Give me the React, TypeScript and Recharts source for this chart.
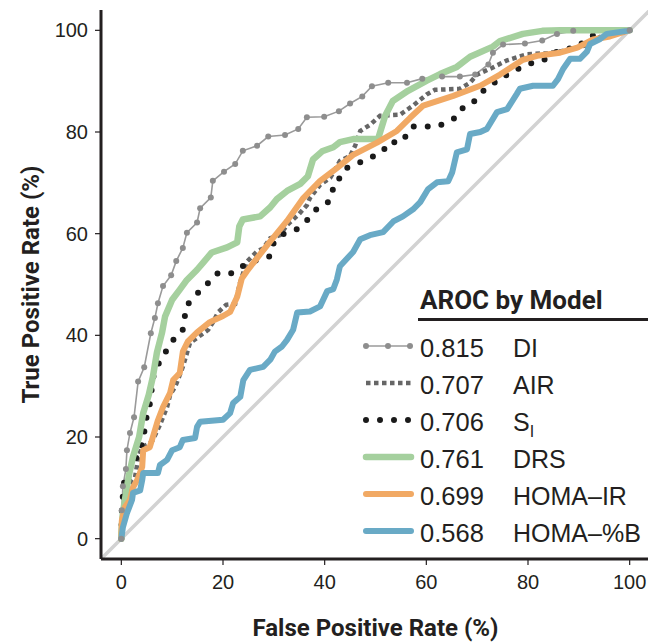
import React from "react";
import { LineChart, Line, XAxis, YAxis, Legend } from "recharts";

// ROC points: [false positive %, true positive %]
const diagonal: [number, number][] = [[-4, -4], [104, 104]];

const diPts: [number, number][] = [
  [0, 0], [0.1, 5.6], [0.3, 10.3], [0.9, 13.7], [1.1, 17.4], [1.7, 20.8], [2.5, 23.9],
  [3.3, 30.9], [4.5, 33.7], [5.8, 40.4], [6.6, 43.4], [7.2, 46.3], [8.2, 49.7],
  [9.8, 51.8], [10.8, 54.6], [12.1, 57.2], [12.9, 60.2], [14.9, 62.2], [15.5, 65.0],
  [17.6, 67.1], [18.0, 70.4], [20.2, 72.2], [22.4, 73.7], [23.9, 76.3], [26.7, 77.3],
  [28.9, 79.1], [32.2, 79.4], [34.8, 80.6], [36.5, 82.9], [39.9, 83.0], [42.8, 84.1],
  [45.0, 85.6], [47.4, 87.0], [49.3, 89.0], [52.5, 89.7], [56.2, 89.7], [59.2, 90.5],
  [63.1, 90.9], [66.6, 90.9], [69.6, 91.3], [72.2, 93.3], [73.1, 95.6], [75.1, 97.2],
  [79.4, 97.4], [82.8, 98.0], [85.7, 99.3], [88.9, 99.9], [100, 100],
];

const airPts: [number, number][] = [
  [0, 0], [0.3, 5], [1.1, 8.1], [1.7, 10.9], [2.7, 12.1], [3.1, 14.5], [3.3, 16.1],
  [4.1, 18], [5.6, 18.8], [6.2, 19.4], [7.6, 22.4], [9, 25.9], [9.6, 28.3], [10.6, 29.9],
  [11.5, 32.2], [12.1, 33.8], [13.5, 38.5], [17.1, 41.1], [18.1, 42.7], [19, 44.5],
  [20.6, 46], [22.4, 46.2], [23.3, 50.2], [24.7, 54.5], [26.7, 56.5], [27.9, 57.1],
  [29.3, 59.1], [31.2, 59.7], [32.6, 61.7], [34.8, 63.7], [36.5, 65.6], [37.1, 67],
  [39.1, 69.6], [41.1, 71], [43, 74.3], [45, 75.3], [46, 77.3], [47, 80.2], [48.9, 81.4],
  [50.9, 83.2], [54.8, 83.4], [57.4, 85.2], [60.1, 87.4], [61.7, 88.3], [66.6, 88.5],
  [68.6, 89.7], [70, 91.3], [73.1, 92.7], [75.9, 94.1], [79.8, 95.3], [83.8, 95.5],
  [87.7, 96.1], [91.6, 97.1], [94.2, 98.7], [99.3, 99.7], [100, 100],
];

const siPts: [number, number][] = [
  [0, 0], [0.1, 6], [0.3, 8.5], [0.5, 10.9], [1.3, 12.9], [2.1, 14.9], [2.7, 15.5],
  [3.7, 17.1], [4.5, 20.8], [4.7, 23], [5.4, 25.3], [5.8, 27.7], [6.2, 31.6], [7.2, 34.2],
  [8.2, 35.8], [9.2, 37.6], [10.2, 39.1], [11.9, 40.5], [12.5, 42.5], [12.5, 45.1],
  [13.5, 46.7], [14.9, 48.1], [16.1, 49.7], [17.8, 50.7], [19, 52.3], [21.8, 52.2],
  [24.3, 53.9], [26.9, 54.9], [29.1, 55.5], [29.6, 57.7], [31.8, 59.9], [32.8, 60.1],
  [34.6, 60.9], [37.5, 63.5], [38.5, 65], [40.5, 66], [41.5, 67.4], [41.7, 69.9],
  [43.2, 71.1], [44.2, 72.9], [46, 73.5], [47.9, 74.5], [49.5, 75.2], [51.5, 76.2],
  [52.5, 78], [55.2, 78], [56.2, 79.6], [57.2, 81.1], [62.3, 81.1], [64.3, 82.1],
  [66, 82.9], [67, 84.6], [69, 85.5], [70.2, 87.1], [71.5, 88.4], [73.1, 89.4],
  [74.5, 90.8], [76.5, 91.4], [78, 92.4], [80, 93.4], [82.8, 94], [85.7, 95.8],
  [87.7, 96], [89.3, 97.4], [90.8, 97.4], [92.8, 99], [94.8, 99.7], [100, 100],
];

const drsPts: [number, number][] = [
  [0, 0], [0, 1.1], [0.3, 5], [0.9, 8.9], [1.5, 12.5], [2.3, 16.1], [3.5, 20], [4.3, 24.7],
  [5.4, 28.3], [6.2, 31.8], [7, 36.6], [8, 40.5], [8.6, 43.7], [10, 47], [11.5, 49],
  [12.9, 50.9], [14.9, 52.9], [16.1, 54.3], [17.8, 56.3], [20.8, 57.3], [22.8, 58.3],
  [23.2, 61.4], [23.9, 62.8], [27.3, 63.4], [29.3, 65.2], [30.6, 66.8], [32.6, 68.4],
  [35.2, 69.8], [36.7, 71.3], [37.7, 74.6], [39.5, 76.2], [41.7, 77], [43, 78],
  [45.6, 78.6], [50.5, 78.6], [51.9, 83.2], [53.4, 86.1], [56.4, 88.1], [60.1, 90.1],
  [62.7, 91.4], [66, 92.8], [68.6, 94.8], [73.1, 96.8], [74.5, 97.9], [79, 99.3],
  [82.8, 99.9], [86.3, 100], [100, 100],
];

const homaIrPts: [number, number][] = [
  [0, 0], [0.1, 3.6], [0.7, 6.2], [1.7, 7.6], [2.3, 10.1], [3.1, 11.5], [4.1, 14.1],
  [4.3, 17.4], [5.6, 18], [6.2, 20], [7.2, 23.3], [8.2, 25.9], [9.6, 28.7], [10.2, 31.2],
  [11.5, 32.6], [12.1, 36.8], [13.1, 38.8], [14.9, 40.6], [17.4, 42.6], [20, 43.8],
  [21.4, 44.6], [22.8, 47.6], [23.7, 51.2], [24.7, 52.6], [26.7, 55.2], [29.3, 58.5],
  [32.6, 62.5], [35.8, 67], [39.1, 70.4], [42.4, 72.9], [45.6, 75.5], [50.3, 77.9],
  [54.2, 80.2], [56.8, 82.8], [59.4, 85.2], [65.3, 87.1], [70.6, 89.1], [74.5, 91.3],
  [79, 94.2], [81.8, 95], [86.3, 95.6], [89.7, 96.6], [92.8, 98.2], [96.1, 98.8],
  [99.5, 99.9], [100, 100],
];

const homaBPts: [number, number][] = [
  [0, 0], [0.3, 2.2], [1.1, 5], [2.1, 7.6], [2.3, 9], [3.7, 9.5], [4.1, 11.5], [4.3, 12.9],
  [7.2, 12.9], [7.6, 14.5], [9, 15.5], [10, 17.4], [11.5, 18], [12.1, 19.4], [14.5, 19.8],
  [14.9, 22], [15.5, 23], [20, 23.4], [21.4, 24.7], [22, 26.7], [23.4, 27.9], [24, 31.2],
  [25.3, 33.2], [27.9, 33.8], [29.3, 35.2], [30.2, 36.8], [31.6, 37.8], [32.6, 39.1],
  [33.8, 41.1], [34.6, 44.5], [37.1, 44.7], [39.1, 45.7], [40.5, 48.7], [41.7, 49.1],
  [42.4, 51], [43, 53.6], [45.6, 56.4], [47, 58.9], [48.9, 59.7], [51.5, 60.3],
  [53.5, 62.4], [55.4, 63.4], [57.4, 64.8], [58.8, 66.2], [60.3, 68.7], [62.1, 70.1],
  [64.3, 70.3], [65.1, 72.1], [66, 76], [68, 76.6], [68.6, 79.6], [70.6, 80], [71.9, 80.6],
  [73.9, 83.9], [75.9, 84.5], [77.8, 87.5], [78.4, 88.5], [81, 89.1], [84.9, 89.1],
  [85.9, 90.4], [86.9, 92.4], [88.3, 94.4], [90.2, 94.4], [91.6, 95.8], [92.2, 97.3],
  [94.2, 98.3], [95.5, 99.3], [99.5, 99.9], [100, 100],
];

const models = ["DI", "AIR", "SI", "DRS", "HOMA–IR", "HOMA–%B"];
const arocValues = ["0.815", "0.707", "0.706", "0.761", "0.699", "0.568"];
const axisTicks = [0, 20, 40, 60, 80, 100];

const INK = "#231f20";
const FONT = "'Liberation Sans', Arial, Helvetica, sans-serif";
const BOLD = "Roboto, 'Liberation Sans', sans-serif";

const rows = (pts: [number, number][]) => pts.map(([fpr, tpr]) => ({ fpr, tpr }));

// line look per model (legend uses the same)
const lineStyle: Record<string, any> = {
  DI: { stroke: "#9a9a9a", strokeWidth: 1.6 },
  AIR: { stroke: "#666666", strokeWidth: 4.5, strokeDasharray: "4.5 3.5" },
  SI: { stroke: "#1a1a1a", strokeWidth: 6, strokeDasharray: "0 14", strokeLinecap: "round" },
  DRS: { stroke: "#a5d09e", strokeWidth: 6.5, strokeLinecap: "round" },
  "HOMA–IR": { stroke: "#f1a964", strokeWidth: 6, strokeLinecap: "round" },
  "HOMA–%B": { stroke: "#69aac6", strokeWidth: 6, strokeLinecap: "round" },
};

function XTitle(props: any) {
  const vb = props.viewBox || { x: 101, width: 549 };
  return (
    <text x={vb.x + vb.width / 2} y={636} textAnchor="middle" fontFamily={BOLD} fontWeight="bold" fontSize={24} fill={INK}>
      False Positive Rate (%)
    </text>
  );
}

function YTitle(props: any) {
  const vb = props.viewBox || { y: 10, height: 549 };
  const cy = vb.y + vb.height / 2;
  return (
    <text x={39} y={cy} transform={`rotate(-90, 39, ${cy})`} textAnchor="middle" fontFamily={BOLD} fontWeight="bold" fontSize={24} fill={INK}>
      True Positive Rate (%)
    </text>
  );
}

function ArocLegend() {
  return (
    <svg width={300} height={290}>
      <text x={70} y={29} fontFamily={BOLD} fontWeight="bold" fontSize={26} fill={INK}>AROC by Model</text>
      <line x1={68} x2={300} y1={39.5} y2={39.5} stroke={INK} strokeWidth={3} />
      {models.map((m, i) => {
        const base = 77 + i * 37;
        const ly = base - 11;
        const st = lineStyle[m];
        return (
          <g key={m}>
            <line x1={16} x2={61} y1={ly} y2={ly} {...st} />
            {m === "DI" && [16, 38, 60].map((cx) => <circle key={cx} cx={cx} cy={ly} r={3} fill="#8e8e8e" />)}
            <text x={70} y={base} fontFamily={FONT} fontSize={25.5} fill={INK}>{arocValues[i]}</text>
            <text x={163} y={base} fontFamily={FONT} fontSize={25} fill={INK}>
              {m === "SI" ? (
                <>
                  <tspan>S</tspan>
                  <tspan fontSize={16} dy={6}>I</tspan>
                </>
              ) : m}
            </text>
          </g>
        );
      })}
    </svg>
  );
}

export default function App() {
  const tickStyle = { fill: INK, fontSize: 20, fontFamily: FONT };
  return (
    <div style={{ position: "absolute", left: 0, top: 0, width: 648, height: 643, overflow: "hidden", background: "#fff" }}>
      <LineChart width={652} height={643} margin={{ top: 10, right: 2, bottom: 0, left: 0 }}>
        <XAxis
          type="number"
          dataKey="fpr"
          domain={[-4, 104]}
          ticks={axisTicks}
          allowDataOverflow
          height={84}
          tickSize={6}
          tickMargin={10}
          tick={tickStyle}
          axisLine={{ stroke: INK, strokeWidth: 3 }}
          tickLine={{ stroke: INK, strokeWidth: 1.2 }}
          label={<XTitle />}
        />
        <YAxis
          type="number"
          domain={[-4, 104]}
          ticks={axisTicks}
          allowDataOverflow
          width={101}
          tickSize={6}
          tickMargin={7}
          tick={tickStyle}
          axisLine={{ stroke: INK, strokeWidth: 3 }}
          tickLine={{ stroke: INK, strokeWidth: 1.2 }}
          label={<YTitle />}
        />
        <Legend
          layout="horizontal"
          verticalAlign="middle"
          align="center"
          content={<ArocLegend />}
          wrapperStyle={{ left: 350, top: 280, width: 300, height: 290 }}
        />
        <Line data={rows(diagonal)} dataKey="tpr" type="linear" stroke="#d2d2d2" strokeWidth={3.5} dot={false} activeDot={false} isAnimationActive={false} legendType="none" />
        <Line data={rows(diPts)} dataKey="tpr" type="linear" {...lineStyle.DI} dot={{ r: 3, fill: "#8e8e8e", stroke: "none" }} activeDot={false} isAnimationActive={false} />
        <Line data={rows(airPts)} dataKey="tpr" type="linear" {...lineStyle.AIR} dot={false} activeDot={false} isAnimationActive={false} />
        <Line data={rows(siPts)} dataKey="tpr" type="linear" {...lineStyle.SI} dot={false} activeDot={false} isAnimationActive={false} />
        <Line data={rows(drsPts)} dataKey="tpr" type="linear" {...lineStyle.DRS} strokeLinejoin="round" dot={false} activeDot={false} isAnimationActive={false} />
        <Line data={rows(homaIrPts)} dataKey="tpr" type="linear" {...lineStyle["HOMA–IR"]} strokeLinejoin="round" dot={false} activeDot={false} isAnimationActive={false} />
        <Line data={rows(homaBPts)} dataKey="tpr" type="linear" {...lineStyle["HOMA–%B"]} strokeLinejoin="round" dot={false} activeDot={false} isAnimationActive={false} />
      </LineChart>
    </div>
  );
}
